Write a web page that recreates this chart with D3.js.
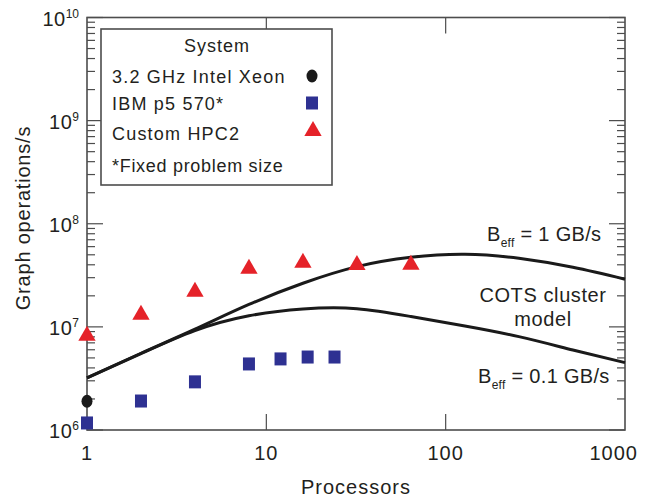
<!DOCTYPE html>
<html><head><meta charset="utf-8">
<script src="https://cdn.jsdelivr.net/npm/d3@7"></script>
<style>
body{margin:0;background:#fff;}
text{font-family:"Liberation Sans",Arial,sans-serif;fill:#231f20;}
</style></head>
<body><svg id="c" width="649" height="497"></svg>
<script>
// ---- data ----
const xeonProcs = [1];
const xeonOps = [1.9e6];
const ibmProcs = [1, 2, 4, 8, 12, 17, 24];
const ibmOps = [1.17e6, 1.91e6, 2.93e6, 4.37e6, 4.89e6, 5.1e6, 5.1e6];
const hpcProcs = [1, 2, 4, 8, 16, 32, 64];
const hpcOps = [8.2e6, 1.31e7, 2.19e7, 3.66e7, 4.18e7, 3.99e7, 4.0e7];
const modelProcs = [1, 2, 4, 8, 16, 32, 64, 128, 256, 512, 1000];
const model1GB = [3.2e6, 5.55e6, 9.5e6, 1.65e7, 2.65e7, 3.84e7, 4.73e7, 5.06e7, 4.63e7, 3.78e7, 2.9e7];
const model01GB = [3.2e6, 5.5e6, 9.2e6, 1.28e7, 1.49e7, 1.5e7, 1.26e7, 1.02e7, 8.04e6, 5.97e6, 4.5e6];
const xTickVals = [1, 10, 100, 1000];
const xTickLabels = ["1", "10", "100", "1000"];
const yTickExps = [6, 7, 8, 9, 10];
const legendLabels = ["3.2 GHz Intel Xeon", "IBM p5 570*", "Custom HPC2"];

const svg = d3.select("#c");
const x = d3.scaleLog().domain([1, 1000]).range([87, 625]);
const y = d3.scaleLog().domain([1e6, 1e10]).range([430, 17.5]);
const axisCol = "#4d4d4d";

// minor + major y ticks, both sides
const yMinor = [];
for (let e = 6; e < 10; e++) for (let m = 2; m <= 9; m++) yMinor.push(m * Math.pow(10, e));
const yMajor = yTickExps.map(e => Math.pow(10, e));

const g = svg.append("g");
g.selectAll(".ymin").data(yMinor).join("line")
  .attr("x1", x(1)).attr("x2", x(1) + 8).attr("y1", d => y(d)).attr("y2", d => y(d))
  .attr("stroke", axisCol).attr("stroke-width", 1.2);
g.selectAll(".ymaj").data(yMajor).join("line")
  .attr("x1", x(1)).attr("x2", x(1) + 16).attr("y1", d => y(d)).attr("y2", d => y(d))
  .attr("stroke", axisCol).attr("stroke-width", 1.2);
g.selectAll(".ymin2").data(yMinor).join("line")
  .attr("x1", x(1000)).attr("x2", x(1000) - 8).attr("y1", d => y(d)).attr("y2", d => y(d))
  .attr("stroke", axisCol).attr("stroke-width", 1.2);
g.selectAll(".ymaj2").data(yMajor).join("line")
  .attr("x1", x(1000)).attr("x2", x(1000) - 16).attr("y1", d => y(d)).attr("y2", d => y(d))
  .attr("stroke", axisCol).attr("stroke-width", 1.2);
const xInner = xTickVals.slice(1, 3);
g.selectAll(".xb").data(xInner).join("line")
  .attr("x1", d => x(d)).attr("x2", d => x(d)).attr("y1", y(1e6)).attr("y2", y(1e6) - 16)
  .attr("stroke", axisCol).attr("stroke-width", 1.2);
g.selectAll(".xt").data(xInner).join("line")
  .attr("x1", d => x(d)).attr("x2", d => x(d)).attr("y1", y(1e10)).attr("y2", y(1e10) + 16)
  .attr("stroke", axisCol).attr("stroke-width", 1.2);

// frame
svg.append("rect").attr("x", x(1)).attr("y", y(1e10))
  .attr("width", x(1000) - x(1)).attr("height", y(1e6) - y(1e10))
  .attr("fill", "none").attr("stroke", axisCol).attr("stroke-width", 1.6);

// tick labels
svg.selectAll(".xl").data(xTickVals).join("text")
  .attr("x", (d, i) => i === xTickVals.length - 1 ? x(d) + 13 : x(d))
  .attr("y", 460)
  .attr("text-anchor", (d, i) => i === xTickVals.length - 1 ? "end" : "middle")
  .attr("font-size", 20).attr("letter-spacing", 1)
  .text((d, i) => xTickLabels[i]);

const yl = svg.selectAll(".yl").data(yTickExps).join("text")
  .attr("x", 79).attr("y", d => y(Math.pow(10, d)) + 8)
  .attr("text-anchor", "end").attr("font-size", 20).attr("letter-spacing", 0.5);
yl.append("tspan").text("10");
yl.append("tspan").attr("dy", -8).attr("font-size", 12).attr("letter-spacing", 0).text(d => d);

// axis titles
svg.append("text").attr("x", 356).attr("y", 494).attr("text-anchor", "middle")
  .attr("font-size", 20).attr("letter-spacing", 1).text("Processors");
svg.append("text").attr("transform", "translate(30,218) rotate(-90)").attr("text-anchor", "middle")
  .attr("font-size", 20).attr("letter-spacing", 0.8).text("Graph operations/s");

// model curves
const line = d3.line().x(d => x(d[0])).y(d => y(d[1])).curve(d3.curveNatural);
[model1GB, model01GB].forEach(s => {
  svg.append("path").attr("d", line(modelProcs.map((p, i) => [p, s[i]])))
    .attr("fill", "none").attr("stroke", "#1a1a1a").attr("stroke-width", 3);
});

// markers
const red = "#e52229", blue = "#2e3192", black = "#1a1a1a";
const tri = d3.symbol().type(d3.symbolTriangle).size(130);
svg.selectAll(".hpc").data(hpcProcs).join("path")
  .attr("d", tri).attr("transform", (d, i) => `translate(${x(d)},${y(hpcOps[i])})`)
  .attr("fill", red);
svg.selectAll(".ibm").data(ibmProcs).join("rect")
  .attr("x", d => x(d) - 6).attr("y", (d, i) => y(ibmOps[i]) - 6.5)
  .attr("width", 12).attr("height", 13).attr("fill", blue);
svg.selectAll(".xeon").data(xeonProcs).join("ellipse")
  .attr("cx", d => x(d)).attr("cy", (d, i) => y(xeonOps[i]))
  .attr("rx", 5.5).attr("ry", 6.5).attr("fill", black);

// annotations
const a1 = svg.append("text").attr("x", 487).attr("y", 241).attr("font-size", 20).attr("letter-spacing", 0.3);
a1.append("tspan").text("B");
a1.append("tspan").attr("dy", 6).attr("font-size", 12).text("eff");
a1.append("tspan").attr("dy", -6).text(" = 1 GB/s");
svg.append("text").attr("x", 543).attr("y", 302).attr("text-anchor", "middle")
  .attr("font-size", 20).attr("letter-spacing", 0.6).text("COTS cluster");
svg.append("text").attr("x", 543).attr("y", 326).attr("text-anchor", "middle")
  .attr("font-size", 20).attr("letter-spacing", 0.6).text("model");
const a2 = svg.append("text").attr("x", 478).attr("y", 383).attr("font-size", 20).attr("letter-spacing", 0.3);
a2.append("tspan").text("B");
a2.append("tspan").attr("dy", 6).attr("font-size", 12).text("eff");
a2.append("tspan").attr("dy", -6).text(" = 0.1 GB/s");

// legend
const lg = svg.append("g");
lg.append("rect").attr("x", 101).attr("y", 29).attr("width", 231).attr("height", 156)
  .attr("fill", "#fff").attr("stroke", axisCol).attr("stroke-width", 1.6);
lg.append("text").attr("x", 217).attr("y", 52).attr("text-anchor", "middle")
  .attr("font-size", 18).attr("letter-spacing", 1).text("System");
const rowsY = [83, 110, 140];
lg.selectAll(".lt").data(legendLabels).join("text")
  .attr("x", 112).attr("y", (d, i) => rowsY[i]).attr("font-size", 18).attr("letter-spacing", 1.2)
  .text(d => d);
lg.append("ellipse").attr("cx", 312).attr("cy", 76).attr("rx", 5.5).attr("ry", 6.5).attr("fill", black);
lg.append("rect").attr("x", 306).attr("y", 96.5).attr("width", 12).attr("height", 13).attr("fill", blue);
lg.append("path").attr("d", tri).attr("transform", "translate(313,131)").attr("fill", red);
lg.append("text").attr("x", 112).attr("y", 172).attr("font-size", 18).attr("letter-spacing", 0.7)
  .text("*Fixed problem size");
</script></body></html>
